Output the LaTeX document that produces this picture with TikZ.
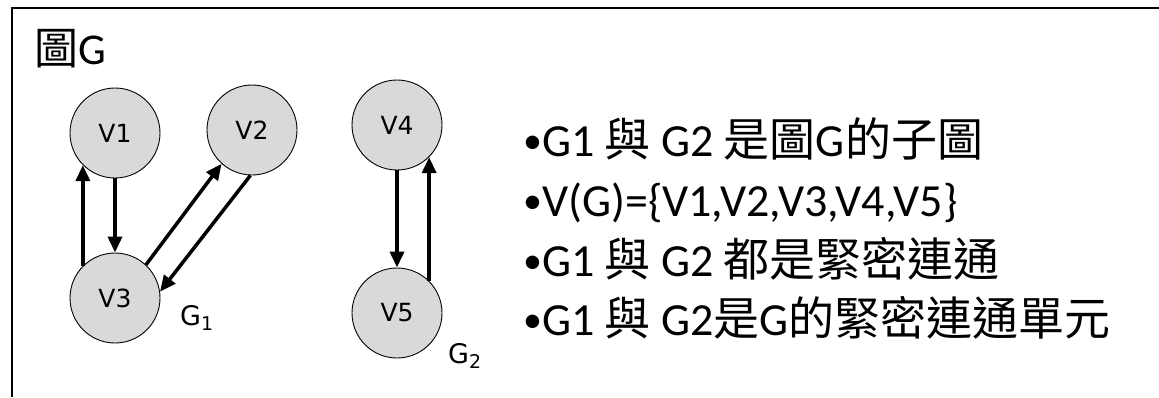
\documentclass[tikz,border=0pt]{standalone}
\usepackage{fontspec}
\setmainfont{Carlito}
\newfontfamily\cjk{Noto Sans CJK TC}
\newfontfamily\dvsans{DejaVu Sans}
\usetikzlibrary{arrows.meta}
\newcommand{\zh}[1]{{\cjk #1}}
\newcommand{\bul}{\raisebox{3pt}{\fontsize{38}{38}\selectfont•}}

\begin{document}
\begin{tikzpicture}[x=1pt, y=-1pt,
  vertex/.style={circle, draw, line width=0.9pt, fill=black!15, minimum size=90pt, inner sep=0pt, font=\dvsans\fontsize{25}{28}\selectfont},
  arr/.style={line width=3.5pt, -{Triangle[length=16pt,width=14pt]}},
  item/.style={anchor=base west, inner sep=0pt, font=\fontsize{46}{52}\selectfont},
  glabel/.style={anchor=base west, inner sep=0pt, font=\dvsans\fontsize{27}{30}\selectfont}]
  \useasboundingbox (0,0) rectangle (1159,397);
  \draw[line width=2.5pt] (12,397) -- (12,8) -- (1159,8);
  \node[anchor=base west, inner sep=0pt, font=\fontsize{44}{48}\selectfont] (title) at (34,64) {\zh{圖}G};
  % G1
  \node[vertex] (v1) at (115,133) {V1};
  \node[vertex] (v2) at (252,130) {V2};
  \node[vertex] (v3) at (115,298) {V3};
  \draw[arr] (v3.135) -- (v1.225);
  \draw[arr] (v1.south) -- (v3.north);
  \draw[arr] (v3.47) -- (v2.228);
  \draw[arr] (v2.268) -- (v3.8);
  \node[glabel] (g1) at (180,325) {G\textsubscript{1}};
  % G2
  \node[vertex] (v4) at (397,125) {V4};
  \node[vertex] (v5) at (397,313) {V5};
  \draw[arr] (v4.south) -- (v5.north);
  \draw[arr] (v5.45) -- (v4.315);
  \node[glabel] (g2) at (448,363) {G\textsubscript{2}};
  % text
  \node[item] (t1) at (523,156) {\bul G1 \zh{與} G2 \zh{是圖}G\zh{的子圖}};
  \node[item] (t2) at (523,216) {\bul V(G)=\{V1,V2,V3,V4,V5\}};
  \node[item] (t3) at (523,276) {\bul G1 \zh{與} G2 \zh{都是緊密連通}};
  \node[item] (t4) at (523,335) {\bul G1 \zh{與} G2\zh{是}G\zh{的緊密連通單元}};
\end{tikzpicture}
\end{document}
